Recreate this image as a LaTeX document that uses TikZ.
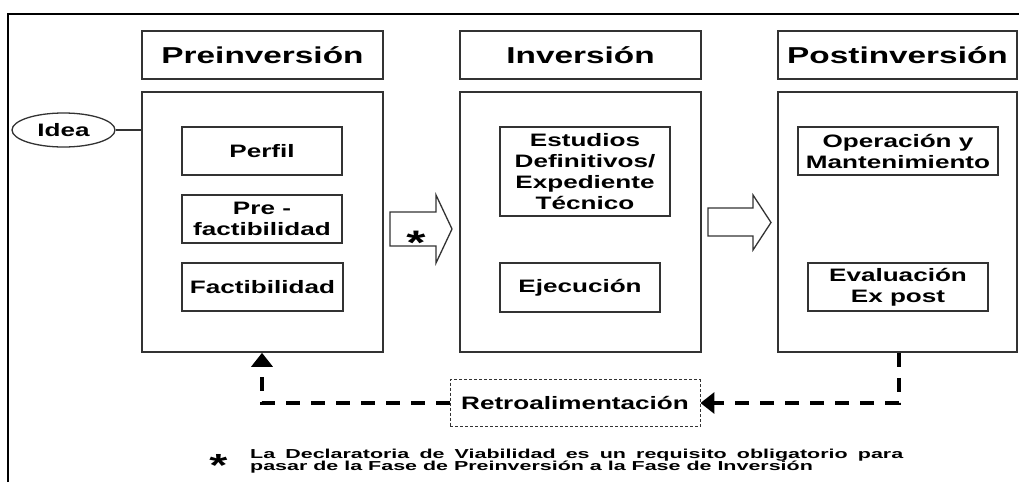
\documentclass[tikz,border=0pt]{standalone}
\usepackage{fontspec}
\setmainfont{Liberation Sans}[FakeStretch=1.45]
\newfontfamily\footf{Liberation Sans}[FakeStretch=1.65]
\usetikzlibrary{shapes.geometric,arrows.meta}
\tikzset{
  frame/.style={line width=2pt, black},
  head/.style={draw=black!80, line width=1.6pt, rectangle, minimum width=241pt, minimum height=48pt, inner sep=0pt, font=\bfseries\fontsize{23}{27}\selectfont},
  phase/.style={draw=black!80, line width=1.6pt, rectangle, minimum width=241pt, minimum height=260pt, inner sep=0pt},
  item/.style={draw=black!80, line width=1.3pt, rectangle, minimum height=48pt, inner sep=0pt, align=center, font=\bfseries\fontsize{18}{21}\selectfont},
  blockarrow/.style={draw=black!80, line width=1.3pt, fill=white, line join=miter},
  fb/.style={line width=3.5pt, black, dash pattern=on 14pt off 11pt},
  fbtip/.style={-{Triangle[length=14pt,width=21pt]}},
  retrobox/.style={draw=black!80, line width=0.9pt, dash pattern=on 3pt off 2pt, rectangle, minimum width=250pt, minimum height=47pt, inner sep=0pt, font=\bfseries\fontsize{18}{21}\selectfont},
  star/.style={font=\bfseries\fontsize{34}{34}\selectfont, inner sep=0pt, anchor=base},
  note/.style={font=\footf\bfseries\fontsize{13}{12}\selectfont, inner sep=0pt, anchor=base west}
}
\begin{document}
\begin{tikzpicture}[x=1pt,y=-1pt]
\useasboundingbox (0,0) rectangle (1019,482);
% outer frame (cut off at right and bottom)
\coordinate (fbl) at (8,482);
\coordinate (ftl) at (8,14);
\coordinate (ftr) at (1019,14);
\draw[frame] (fbl) -- (ftl) -- (ftr);

% headers
\node[head] (hpre) at (262.5,55) {Preinversión};
\node[head] (hinv) at (580.5,55) {Inversión};
\node[head, minimum width=239pt] (hpost) at (897.5,55) {Postinversión};

% phase boxes
\node[phase] (pre) at (262.5,222) {};
\node[phase] (inv) at (580.5,222) {};
\node[phase, minimum width=239pt] (post) at (897.5,222) {};

% idea
\node[draw=black!80, line width=1.3pt, ellipse, minimum width=103pt, minimum height=34pt, inner sep=0pt, font=\bfseries\fontsize{18}{21}\selectfont] (idea) at (63.5,130) {Idea};
\draw[line width=1.3pt, black!80] (idea.east) -- (idea.east -| pre.west);

% items
\node[item, minimum width=160pt] (perfil) at (262,151) {Perfil};
\node[item, minimum width=160pt] (prefact) at (262,219) {Pre -\\factibilidad};
\node[item, minimum width=161pt] (fact) at (262.5,287) {Factibilidad};
\node[item, minimum width=170pt, minimum height=89pt] (estudios) at (585,171.5) {Estudios\\Definitivos/\\Expediente\\Técnico};
\node[item, minimum width=160pt, minimum height=49pt] (ejec) at (580,287.5) {Ejecución};
\node[item, minimum width=200pt] (oper) at (898,151) {Operación y\\Mantenimiento};
\node[item, minimum width=180pt] (eval) at (898,287) {Evaluación\\Ex post};

% block arrows
\draw[blockarrow] (390,212) -- (436,212) -- (436,195) -- (452,229) -- (436,263) -- (436,246) -- (390,246) -- cycle;
\node[star] (s1) at (416,254) {*};
\draw[blockarrow] (708,208) -- (753,208) -- (753,195) -- (771,222.5) -- (753,250) -- (753,236) -- (708,236) -- cycle;

% feedback
\node[retrobox] (retro) at (575,403) {Retroalimentación};
\coordinate (fbR) at (899,403);
\coordinate (fbL) at (262,403);
\draw[fb, fbtip] (post.south -| fbR) -- (fbR) -- (retro.east);
\draw[fb, fbtip] (retro.west) -- (fbL) -- (fbL |- pre.south);

% footnote
\node[star, font=\bfseries\fontsize{32}{32}\selectfont] (s2) at (218.5,476) {*};
\node[note] (n1) at (250,458) {\makebox[653pt][s]{La Declaratoria de Viabilidad es un requisito obligatorio para}};
\node[note] (n2) at (250,470) {pasar de la Fase de Preinversión a la Fase de Inversión};
\end{tikzpicture}
\end{document}
